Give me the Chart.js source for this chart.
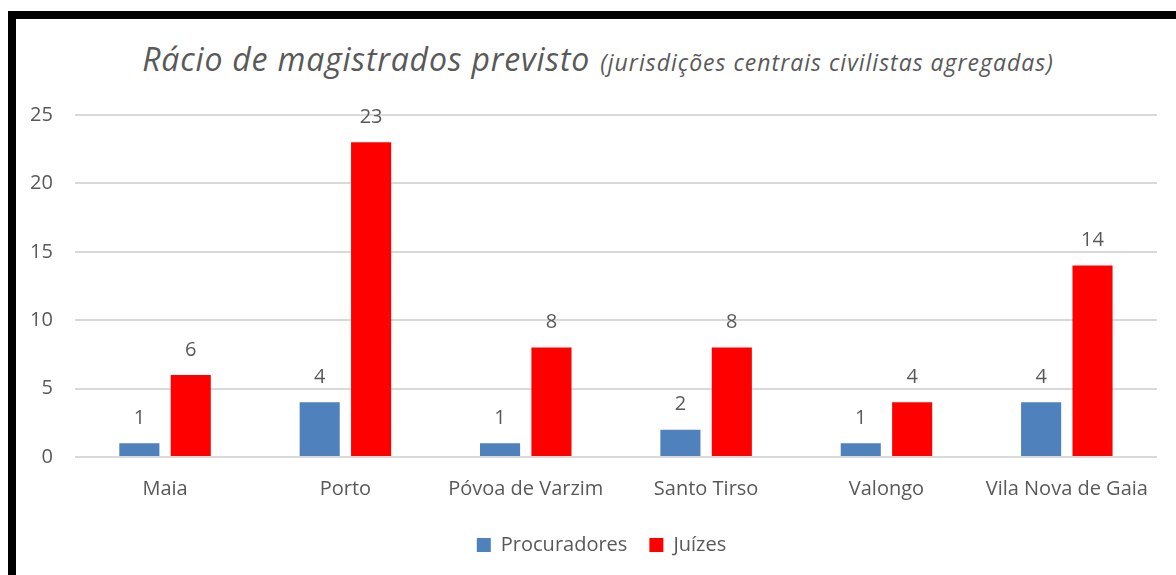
<!DOCTYPE html>
<html>
<head>
<meta charset="utf-8">
<script src="https://cdn.jsdelivr.net/npm/chart.js@4.4.0/dist/chart.umd.min.js"></script>
<style>
  html, body { margin: 0; padding: 0; width: 1176px; height: 575px; overflow: hidden; background: #fff; }
  .frame { position: absolute; left: 8px; top: 11px; width: 1300px; height: 700px; border-left: 8px solid #000; border-top: 8px solid #000; }
  .title { position: absolute; left: 0; top: 37px; width: 1196px; text-align: center; font-family: "Open Sans", sans-serif; font-style: italic; color: #595959; white-space: nowrap; }
  .title .main { font-size: 32px; letter-spacing: 0.8px; }
  .title .sub { font-size: 23px; letter-spacing: 1px; margin-left: 6px; }
  #chart { position: absolute; left: 0; top: 0; }
</style>
</head>
<body>
<div class="frame"></div>
<div class="title"><span class="main">Rácio de magistrados previsto</span> <span class="sub">(jurisdições centrais civilistas agregadas)</span></div>
<canvas id="chart" width="1176" height="575"></canvas>
<script>
  const categories = ['Maia', 'Porto', 'Póvoa de Varzim', 'Santo Tirso', 'Valongo', 'Vila Nova de Gaia'];
  const procuradores = [1, 4, 1, 2, 1, 4];
  const juizes = [6, 23, 8, 8, 4, 14];
  const yTicks = [0, 5, 10, 15, 20, 25];

  const textColor = '#595959';
  const fontFamily = '"Open Sans", sans-serif';

  // labels above each bar
  const valueLabels = {
    id: 'valueLabels',
    afterDatasetsDraw(chart) {
      const ctx = chart.ctx;
      ctx.save();
      ctx.font = '20px ' + fontFamily;
      ctx.fillStyle = textColor;
      ctx.textAlign = 'center';
      ctx.textBaseline = 'middle';
      chart.data.datasets.forEach((ds, i) => {
        chart.getDatasetMeta(i).data.forEach((bar, j) => {
          ctx.fillText(ds.data[j], bar.x, bar.y - 25);
        });
      });
      ctx.restore();
    }
  };

  // nudge the legend a bit right, like the original
  const legendShift = {
    id: 'legendShift',
    afterLayout(chart) {
      if (chart.legend) {
        chart.legend.left += 19;
        chart.legend.right += 19;
      }
    }
  };

  new Chart(document.getElementById('chart'), {
    type: 'bar',
    data: {
      labels: categories,
      datasets: [
        { label: 'Procuradores', data: procuradores, backgroundColor: '#4F81BD' },
        { label: 'Juízes', data: juizes, backgroundColor: '#FF0000' }
      ]
    },
    options: {
      responsive: false,
      animation: false,
      categoryPercentage: 0.57,
      barPercentage: 0.78,
      layout: { padding: { left: 8, right: 19, top: 115, bottom: 10 } },
      plugins: {
        legend: {
          position: 'bottom',
          labels: {
            boxWidth: 14, boxHeight: 14, padding: 22,
            color: textColor,
            font: { family: fontFamily, size: 20 }
          }
        },
        tooltip: { enabled: false }
      },
      scales: {
        x: {
          grid: { display: false },
          border: { display: false },
          ticks: { color: textColor, font: { family: fontFamily, size: 20 }, padding: 12 }
        },
        y: {
          min: 0, max: 25,
          afterBuildTicks: axis => { axis.ticks = yTicks.map(v => ({ value: v })); },
          grid: { color: '#D9D9D9', lineWidth: 2, drawTicks: false },
          border: { display: false },
          ticks: { color: textColor, font: { family: fontFamily, size: 20 }, padding: 22 }
        }
      }
    },
    plugins: [valueLabels, legendShift]
  });
</script>
</body>
</html>
